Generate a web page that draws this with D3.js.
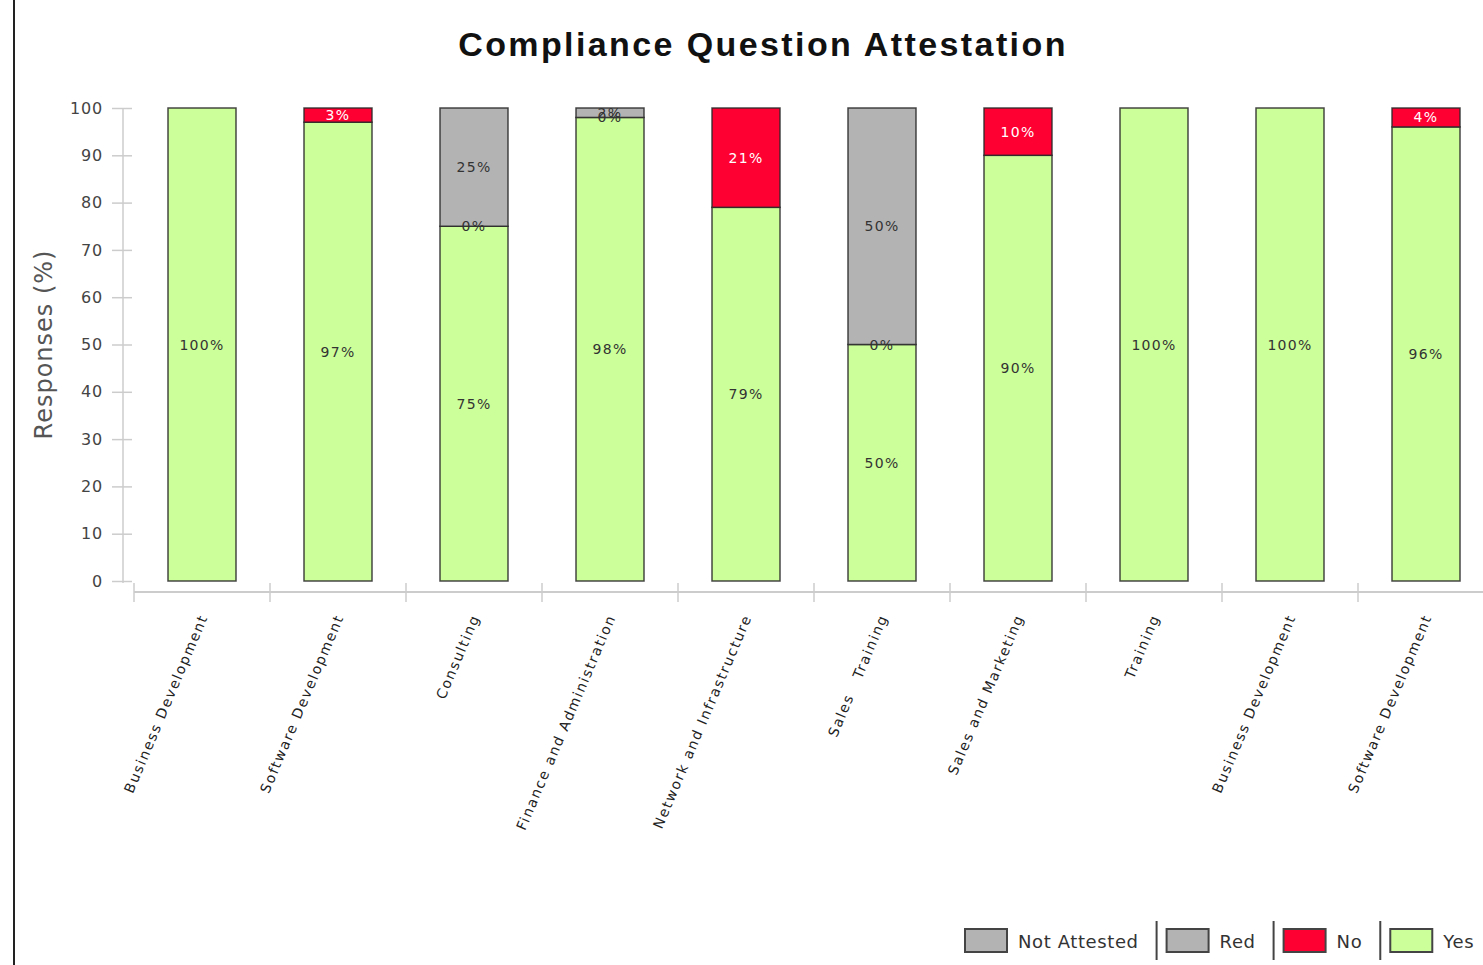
<!DOCTYPE html>
<html>
<head>
<meta charset="utf-8">
<script src="https://cdn.jsdelivr.net/npm/d3@7"></script>
<style>
  body { margin: 0; background: #fff; }
  svg { display: block; }
</style>
</head>
<body>
<div id="chart"></div>
<script>
// categories (x axis)
var categories = ["Business Development", "Software Development", "Consulting",
  "Finance and Administration", "Network and Infrastructure", "Sales   Training",
  "Sales and Marketing", "Training", "Business Development", "Software Development"];

// series values (%), null = no value for that category
var yesValues         = [100, 97, 75, 98, 79, 50, 90, 100, 100, 96];
var noValues          = [null, 3, null, null, 21, null, 10, null, null, 4];
var redValues         = [null, null, 0, 0, null, 0, null, null, null, null];
var notAttestedValues = [null, null, 25, 2, null, 50, null, null, null, null];

var yTicks = [0, 10, 20, 30, 40, 50, 60, 70, 80, 90, 100];
var legendLabels = ["Not Attested", "Red", "No", "Yes"];

var keys = ["yes", "no", "red", "notAttested"];
var colors = { yes: "#ccff99", no: "#ff0033", red: "#b3b3b3", notAttested: "#b3b3b3" };
var labelColors = { yes: "#333", no: "#fff", red: "#333", notAttested: "#333" };
var legendKeys = ["notAttested", "red", "no", "yes"];

var table = categories.map(function (c, i) {
  return { i: i, name: c, yes: yesValues[i], no: noValues[i], red: redValues[i], notAttested: notAttestedValues[i] };
});

var W = 1483, H = 965;
var svg = d3.select("#chart").append("svg").attr("width", W).attr("height", H);
svg.append("rect").attr("width", W).attr("height", H).attr("fill", "#fff");

// left border line
svg.append("line").attr("x1", 14).attr("x2", 14).attr("y1", 0).attr("y2", H)
  .attr("stroke", "#222").attr("stroke-width", 2);

// title
svg.append("text")
  .attr("x", 763).attr("y", 56)
  .attr("text-anchor", "middle")
  .style("font-family", "'Liberation Sans', Arial, sans-serif")
  .style("font-weight", "bold")
  .style("font-size", "34px")
  .style("letter-spacing", "2.4px")
  .attr("fill", "#111")
  .text("Compliance Question Attestation");

var y = d3.scaleLinear().domain([0, 100]).range([581, 108]);
var x = d3.scaleBand().domain(d3.range(categories.length)).range([134, 1494])
  .paddingInner(0.5).paddingOuter(0.25);

// y axis
var yAxis = svg.append("g").attr("transform", "translate(132,0)")
  .call(d3.axisLeft(y).tickValues(yTicks).tickSizeInner(20).tickSizeOuter(0).tickPadding(9));
yAxis.select(".domain").remove();
yAxis.selectAll(".tick line").attr("stroke", "#ccc").attr("stroke-width", 1.5);
yAxis.selectAll(".tick text")
  .style("font-family", "'DejaVu Sans', sans-serif")
  .style("font-size", "16px")
  .style("letter-spacing", "0.8px")
  .attr("fill", "#444");
svg.append("line").attr("x1", 123).attr("x2", 123).attr("y1", y(100)).attr("y2", y(0) + 2)
  .attr("stroke", "#ccc").attr("stroke-width", 1.5);

svg.append("text")
  .attr("transform", "translate(52," + ((y(0) + y(100)) / 2) + ") rotate(-90)")
  .attr("text-anchor", "middle")
  .style("font-family", "'DejaVu Sans', sans-serif")
  .style("font-size", "24px")
  .style("letter-spacing", "1px")
  .attr("fill", "#555")
  .text("Responses (%)");

// x axis
var xAxisY = 592;
svg.append("line").attr("x1", 134).attr("x2", W).attr("y1", xAxisY).attr("y2", xAxisY)
  .attr("stroke", "#ccc").attr("stroke-width", 2);
svg.selectAll(".xtick").data(categories).enter().append("line")
  .attr("class", "xtick")
  .attr("x1", function (d, i) { return x(i) - x.step() * 0.25; })
  .attr("x2", function (d, i) { return x(i) - x.step() * 0.25; })
  .attr("y1", xAxisY - 9).attr("y2", xAxisY + 10)
  .attr("stroke", "#ccc").attr("stroke-width", 1.5);

svg.selectAll(".xlabel").data(categories).enter().append("text")
  .attr("class", "xlabel")
  .attr("transform", function (d, i) {
    return "translate(" + (x(i) + x.bandwidth() / 2 + 6) + ",617) rotate(-67)";
  })
  .attr("text-anchor", "end")
  .style("white-space", "pre")
  .style("font-family", "'DejaVu Sans', sans-serif")
  .style("font-size", "14px")
  .style("letter-spacing", "1.6px")
  .attr("fill", "#222")
  .text(function (d) { return d; });

// stacked bars
var series = d3.stack().keys(keys).value(function (d, k) { return d[k] == null ? 0 : d[k]; })(table);

function items(s) {
  return s.map(function (p) { return { key: s.key, p: p }; })
    .filter(function (e) { return e.p.data[e.key] != null; });
}

var barLayer = svg.append("g");
barLayer.selectAll("g").data(series).enter().append("g")
  .selectAll("rect").data(function (s) { return items(s).filter(function (e) { return e.p.data[e.key] > 0; }); })
  .enter().append("rect")
  .attr("x", function (e) { return x(e.p.data.i); })
  .attr("width", x.bandwidth())
  .attr("y", function (e) { return y(e.p[1]); })
  .attr("height", function (e) { return y(e.p[0]) - y(e.p[1]); })
  .attr("fill", function (e) { return colors[e.key]; })
  .attr("stroke", "rgba(40,40,40,0.85)")
  .attr("stroke-width", 1.5);

// value labels, drawn above all bars
var labelLayer = svg.append("g");
labelLayer.selectAll("g").data(series).enter().append("g")
  .selectAll("text").data(items)
  .enter().append("text")
  .attr("x", function (e) { return x(e.p.data.i) + x.bandwidth() / 2; })
  .attr("y", function (e) { return (y(e.p[0]) + y(e.p[1])) / 2; })
  .attr("text-anchor", "middle")
  .attr("dominant-baseline", "central")
  .style("font-family", "'DejaVu Sans', sans-serif")
  .style("font-size", "14px")
  .style("letter-spacing", "1.3px")
  .attr("fill", function (e) { return labelColors[e.key]; })
  .text(function (e) { return e.p.data[e.key] + "%"; });

// legend
var lx = 965, ly = 929;
legendKeys.forEach(function (k, i) {
  var g = svg.append("g").attr("transform", "translate(" + lx + "," + ly + ")");
  g.append("rect").attr("width", 42).attr("height", 23)
    .attr("fill", colors[k]).attr("stroke", "#444").attr("stroke-width", 2);
  var t = g.append("text").attr("x", 53).attr("y", 19)
    .style("font-family", "'DejaVu Sans', sans-serif")
    .style("font-size", "18px")
    .style("letter-spacing", "0.6px")
    .attr("fill", "#333")
    .text(legendLabels[i]);
  var tw = t.node().getComputedTextLength();
  lx += 53 + tw + 18;
  if (i < legendKeys.length - 1) {
    svg.append("line").attr("x1", lx).attr("x2", lx).attr("y1", ly - 8).attr("y2", ly + 31)
      .attr("stroke", "#444").attr("stroke-width", 2);
    lx += 10;
  }
});
</script>
</body>
</html>
